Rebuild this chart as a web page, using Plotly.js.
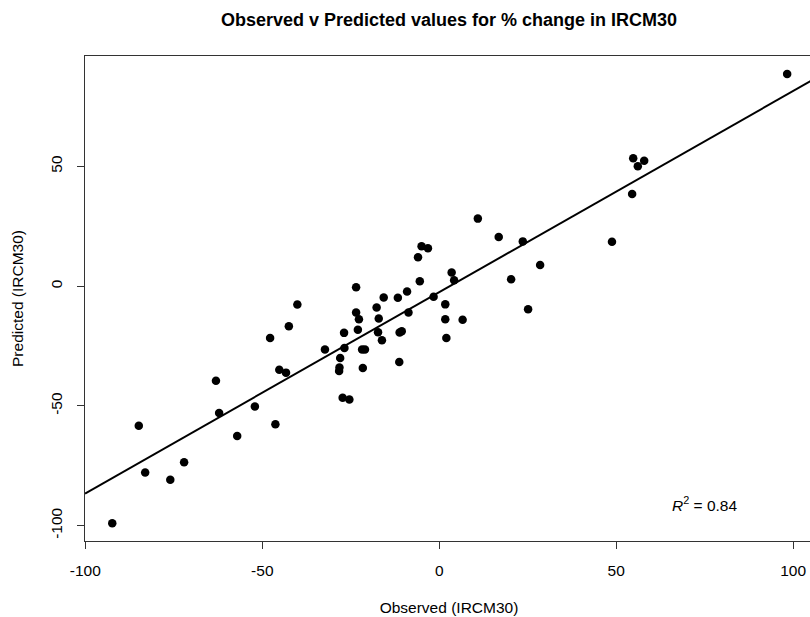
<!DOCTYPE html>
<html>
<head>
<meta charset="utf-8">
<script src="https://cdn.plot.ly/plotly-3.0.1.min.js"></script>
<style>
html, body { margin: 0; padding: 0; overflow: hidden; background: #fff; }
#chart { width: 815px; height: 617px; }
</style>
</head>
<body>
<div id="chart"></div>
<script>
// Observed % change in IRCM30 (x) and predicted values (y)
const observed = [
  -92.4, -84.9, -83.1, -76.0, -72.1, -63.1, -62.2, -57.1, -52.1, -46.3,
  -45.2, -43.3, -47.8, -42.5, -40.1, -32.3, -28.0, -28.2, -28.3, -26.8,
  -26.9, -27.3, -25.4, -23.5, -23.5, -22.7, -23.0, -21.8, -21.0, -21.6,
  -17.7, -17.1, -17.3, -16.2, -15.7, -11.7, -9.1, -11.3, -11.2, -10.6,
  -8.7, -5.5, -6.0, -5.0, -3.2, -1.6, 3.5, 4.2, 1.7, 1.7,
  6.6, 2.0, 10.9, 16.8, 23.6, 28.5, 20.3, 25.1, 48.8, 54.5,
  54.8, 57.9, 56.1, 98.3
];
const predicted = [
  -99.0, -58.3, -77.8, -80.8, -73.5, -39.5, -53.0, -62.6, -50.2, -57.7,
  -34.9, -36.1, -21.6, -16.7, -7.7, -26.4, -30.0, -34.0, -35.4, -25.8,
  -19.5, -46.6, -47.3, -0.5, -11.0, -13.8, -18.2, -26.4, -26.4, -34.2,
  -8.9, -13.5, -19.2, -22.6, -4.7, -4.8, -2.2, -31.7, -19.3, -18.8,
  -11.0, 2.1, 12.1, 16.7, 15.8, -4.4, 5.7, 2.5, -7.6, -13.8,
  -14.0, -21.6, 28.2, 20.5, 18.7, 8.8, 2.9, -9.6, 18.5, 38.5,
  53.4, 52.4, 50.1, 88.6
];

// Fitted line (predicted ~ observed)
const fitSlope = 0.84;
const fitIntercept = -2.5;
const rSquaredText = "0.84";

const xRange = [-100.1, 105.6];
const yRange = [-106.4, 96.1];
const xTicks = [-100, -50, 0, 50, 100];
const yTicks = [-100, -50, 0, 50];

const fitX = xRange.slice();
const fitY = fitX.map(v => fitIntercept + fitSlope * v);

const font = "Liberation Sans, Arial, Helvetica, sans-serif";

const traces = [
  {
    type: "scatter", mode: "markers",
    x: observed, y: predicted,
    marker: { color: "#000", size: 8.5, line: { width: 0 } },
    hoverinfo: "x+y", showlegend: false
  },
  {
    type: "scatter", mode: "lines",
    x: fitX, y: fitY,
    line: { color: "#000", width: 2 },
    hoverinfo: "skip", showlegend: false
  }
];

const layout = {
  width: 815, height: 617,
  margin: { l: 85, r: 2, t: 56, b: 76 },
  paper_bgcolor: "#fff", plot_bgcolor: "#fff",
  font: { family: font, size: 15, color: "#000" },
  title: {
    text: "<b>Observed v Predicted values for % change in IRCM30</b>",
    font: { family: font, size: 18, color: "#000" },
    xref: "paper", x: 0.5, xanchor: "center",
    yref: "container", y: 1 - 20 / 617, yanchor: "middle"
  },
  xaxis: {
    range: xRange, tickvals: xTicks, ticktext: xTicks.map(String),
    ticks: "outside", ticklen: 7, tickwidth: 1, tickcolor: "#333",
    ticklabelstandoff: 8,
    showline: true, linecolor: "#333", linewidth: 1, mirror: true,
    showgrid: false, zeroline: false,
    tickfont: { family: font, size: 15.5, color: "#000" },
    title: { text: "Observed (IRCM30)", font: { family: font, size: 15.5, color: "#000" }, standoff: 24 }
  },
  yaxis: {
    range: yRange, tickvals: yTicks, ticktext: yTicks.map(String),
    ticks: "outside", ticklen: 7, tickwidth: 1, tickcolor: "#333", tickangle: -90,
    ticklabelstandoff: 9,
    showline: true, linecolor: "#333", linewidth: 1, mirror: true,
    showgrid: false, zeroline: false,
    tickfont: { family: font, size: 15.5, color: "#000" },
    title: { text: "Predicted (IRCM30)", font: { family: font, size: 15.5, color: "#000" }, standoff: 20 }
  },
  annotations: [
    {
      xref: "x", yref: "y", x: 75, y: -90.8,
      text: "<i>R</i><sup>2</sup> = " + rSquaredText,
      showarrow: false, xanchor: "center", yanchor: "middle",
      font: { family: font, size: 15.5, color: "#000" }
    }
  ]
};

Plotly.newPlot("chart", traces, layout, { displayModeBar: false, staticPlot: true });
</script>
</body>
</html>
